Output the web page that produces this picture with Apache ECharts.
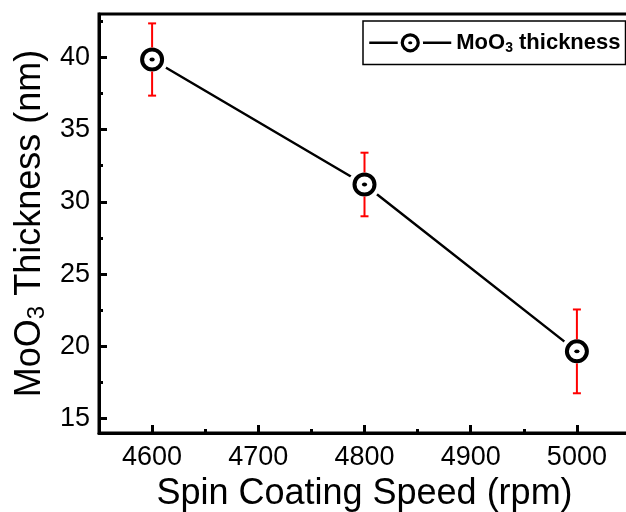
<!DOCTYPE html>
<html>
<head>
<meta charset="utf-8">
<script src="https://cdn.jsdelivr.net/npm/echarts@6/dist/echarts.min.js"></script>
<style>
  html, body { margin: 0; padding: 0; background: #fff; }
  #main { width: 626px; height: 512px; }
</style>
</head>
<body>
<div id="main"></div>
<script>
//旋涂转速 (rpm)
var speeds = [4600, 4800, 5000];
//MoO3 厚度 (nm)
var thickness = [39.85, 31.2, 19.65];
//误差
var errors = [2.5, 2.2, 2.9];
//刻度
var xLabels = [4600, 4700, 4800, 4900, 5000];
var xMinor = [4650, 4750, 4850, 4950];
var yLabels = [15, 20, 25, 30, 35, 40];
var yMinor = [17.5, 22.5, 27.5, 32.5, 37.5, 42.5];

var font = 'Liberation Sans, Arial, sans-serif';

//空心圆加中心点的符号
var svg = '<svg xmlns="http://www.w3.org/2000/svg" width="32" height="32" viewBox="0 0 32 32">' +
    '<circle cx="16" cy="16" r="16" fill="#ffffff"/>' +
    '<circle cx="16" cy="16" r="10" fill="#ffffff" stroke="#000000" stroke-width="4"/>' +
    '<ellipse cx="16" cy="16" rx="2.6" ry="1.9" fill="#000000"/>' +
    '</svg>';
var ringSymbol = 'image://data:image/svg+xml;charset=utf-8,' + encodeURIComponent(svg);

var lineData = [];
var errData = [];
for (var i = 0; i < speeds.length; i++) {
    lineData.push([speeds[i], thickness[i]]);
    errData.push([speeds[i], thickness[i], thickness[i] - errors[i], thickness[i] + errors[i]]);
}

var chart = echarts.init(document.getElementById('main'));

var option = {
    backgroundColor: '#fff',
    animation: false,
    grid: {
        left: 99, top: 14, width: 531, height: 419,
        outerBoundsMode: 'none', containLabel: false,
        show: true, borderColor: '#000', borderWidth: 3, backgroundColor: 'transparent'
    },
    legend: {
        left: 363, top: 21,
        padding: [9, 5, 9, 5],
        itemWidth: 82, itemHeight: 32,
        borderColor: '#000', borderWidth: 1.5,
        lineStyle: { width: 2.5, color: '#000' },
        data: ['MoO3 thickness'],
        formatter: function () { return '{a|MoO}{s|3}{a| thickness}'; },
        textStyle: {
            rich: {
                a: { fontFamily: font, fontWeight: 'bold', fontSize: 22, color: '#000' },
                s: { fontFamily: font, fontWeight: 'bold', fontSize: 14, color: '#000', padding: [10, 0, 0, 0] }
            }
        }
    },
    xAxis: [{
        type: 'value', min: 4550, max: 5050,
        name: 'Spin Coating Speed (rpm)', nameLocation: 'middle', nameGap: 42,
        nameTextStyle: { fontFamily: font, fontSize: 36, color: '#000' },
        axisLine: { show: true, onZero: false, lineStyle: { color: '#000', width: 3 } },
        axisTick: { show: true, inside: true, length: 8, customValues: xLabels, lineStyle: { color: '#000', width: 3 } },
        axisLabel: {
            customValues: xLabels, margin: 11, fontFamily: font, fontSize: 27, color: '#000',
            formatter: function (v) { return String(v); }
        },
        splitLine: { show: false }
    }, {
        type: 'value', min: 4550, max: 5050, position: 'bottom',
        axisLine: { show: false },
        axisTick: { show: true, inside: true, length: 4, customValues: xMinor, lineStyle: { color: '#000', width: 3 } },
        axisLabel: { show: false },
        splitLine: { show: false }
    }],
    yAxis: [{
        type: 'value', min: 14, max: 43,
        name: '{a|MoO}{s|3}{a| Thickness (nm)}', nameLocation: 'middle', nameGap: 50,
        nameTextStyle: {
            rich: {
                a: { fontFamily: font, fontSize: 36, color: '#000' },
                s: { fontFamily: font, fontSize: 24, color: '#000', padding: [14, 0, 0, 0] }
            }
        },
        axisLine: { show: true, onZero: false, lineStyle: { color: '#000', width: 3 } },
        axisTick: { show: true, inside: true, length: 8, customValues: yLabels, lineStyle: { color: '#000', width: 3 } },
        axisLabel: { customValues: yLabels, margin: 9, fontFamily: font, fontSize: 27, color: '#000' },
        splitLine: { show: false }
    }, {
        type: 'value', min: 14, max: 43, position: 'left',
        axisLine: { show: false },
        axisTick: { show: true, inside: true, length: 4, customValues: yMinor, lineStyle: { color: '#000', width: 3 } },
        axisLabel: { show: false },
        splitLine: { show: false }
    }],
    series: [{
        name: 'MoO3 thickness',
        type: 'line',
        z: 2,
        data: lineData,
        symbol: ringSymbol,
        symbolSize: 32,
        lineStyle: { color: '#000', width: 2.5 },
        itemStyle: { color: '#000' }
    }, {
        name: 'err',
        type: 'custom',
        z: 3,
        data: errData,
        encode: { x: 0, y: [1, 2, 3] },
        renderItem: function (params, api) {
            var c = api.coord([api.value(0), api.value(1)]);
            var lo = api.coord([api.value(0), api.value(2)]);
            var hi = api.coord([api.value(0), api.value(3)]);
            var r = 12, w = 4;
            var style = { stroke: '#ff0000', lineWidth: 2 };
            return {
                type: 'group',
                children: [
                    { type: 'line', shape: { x1: c[0], y1: hi[1], x2: c[0], y2: c[1] - r }, style: style },
                    { type: 'line', shape: { x1: c[0], y1: c[1] + r, x2: c[0], y2: lo[1] }, style: style },
                    { type: 'line', shape: { x1: c[0] - w, y1: hi[1], x2: c[0] + w, y2: hi[1] }, style: style },
                    { type: 'line', shape: { x1: c[0] - w, y1: lo[1], x2: c[0] + w, y2: lo[1] }, style: style }
                ]
            };
        }
    }]
};

chart.setOption(option);
</script>
</body>
</html>
